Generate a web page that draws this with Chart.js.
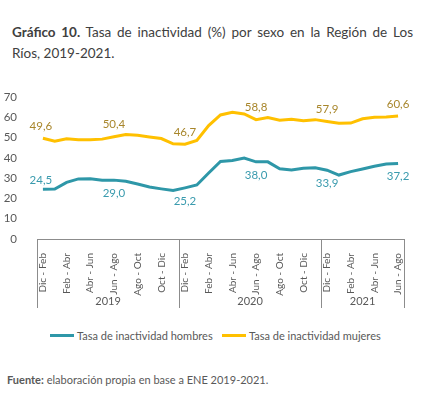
<!DOCTYPE html>
<html>
<head>
<meta charset="utf-8">
<script src="https://cdn.jsdelivr.net/npm/chart.js@4.4.0/dist/chart.umd.min.js"></script>
<style>
  body { margin: 0; background: #fff; font-family: Lato, "Open Sans", sans-serif; color: #404040; }
  #wrap { position: relative; width: 439px; height: 395px; overflow: hidden; }
  #titulo { position: absolute; left: 12px; top: 22px; width: 401px; font-size: 13.5px; line-height: 21px; text-align: justify; }
  #titulo b { font-weight: 700; }
  #lienzo { position: absolute; left: 0; top: 78px; width: 439px; height: 247px; }
  #leyenda { position: absolute; top: 329px; left: 0; width: 439px; font-size: 11px; color: #595959; }
  .item { position: absolute; display: flex; align-items: center; white-space: nowrap; }
  .item i { display: inline-block; width: 24px; height: 3px; margin-right: 3px; }
  #fuente { position: absolute; left: 7px; top: 373px; font-size: 11px; color: #595959; }
</style>
</head>
<body>
<div id="wrap">
  <div id="titulo"><b>Gráfico 10.</b> Tasa de inactividad (%) por sexo en la Región de Los Ríos, 2019-2021.</div>
  <div id="lienzo"><canvas id="chart" width="439" height="247"></canvas></div>
  <div id="leyenda"></div>
  <div id="fuente"><b>Fuente:</b> elaboración propia en base a ENE 2019-2021.</div>
</div>
<script>
// Trimestres móviles, 2019 a jun-ago 2021
const trimestres = [
  'Dic - Feb', 'Ene - Mar', 'Feb - Abr', 'Mar - May', 'Abr - Jun', 'May - Jul',
  'Jun - Ago', 'Jul - Sep', 'Ago - Oct', 'Sep - Nov', 'Oct - Dic', 'Nov - Ene',
  'Dic - Feb', 'Ene - Mar', 'Feb - Abr', 'Mar - May', 'Abr - Jun', 'May - Jul',
  'Jun - Ago', 'Jul - Sep', 'Ago - Oct', 'Sep - Nov', 'Oct - Dic', 'Nov - Ene',
  'Dic - Feb', 'Ene - Mar', 'Feb - Abr', 'Mar - May', 'Abr - Jun', 'May - Jul',
  'Jun - Ago'
];
const anios = ['2019', '2020', '2021'];
const trimestresPorAnio = [12, 12, 7];

const hombres = [
  24.5, 24.6, 27.9, 29.6, 29.7, 28.9, 29.0, 28.4, 27.1, 25.6, 24.7, 23.9,
  25.2, 26.6, 32.5, 38.2, 38.7, 39.9, 38.0, 38.0, 34.6, 34.0, 34.9, 35.1,
  33.9, 31.5, 33.2, 34.5, 35.8, 36.9, 37.2
];
const mujeres = [
  49.6, 48.2, 49.4, 48.9, 48.9, 49.2, 50.4, 51.5, 51.1, 50.3, 49.5, 46.9,
  46.7, 48.5, 55.9, 61.1, 62.4, 61.6, 58.8, 59.8, 58.5, 59.0, 58.3, 58.8,
  57.9, 57.0, 57.1, 59.2, 60.0, 60.1, 60.6
];
const etiquetados = [0, 6, 12, 18, 24, 30];

const colHombres = '#2E97A8';
const colMujeres = '#FFC000';
const txtHombres = '#3A9BAE';
const txtMujeres = '#A8862B';
const gris = '#595959';
const fuente = 'Lato, "Open Sans", sans-serif';

// leyenda en HTML
const leyenda = document.getElementById('leyenda');
[['Tasa de inactividad hombres', colHombres, 50], ['Tasa de inactividad mujeres', colMujeres, 222]].forEach(([txt, col, x]) => {
  const d = document.createElement('div');
  d.className = 'item';
  d.style.left = x + 'px';
  d.innerHTML = `<i style="background:${col}"></i>${txt}`;
  leyenda.appendChild(d);
});

const fmt = v => v.toFixed(1).replace('.', ',');

// etiquetas de valores
const pluginEtiquetas = {
  id: 'etiquetas',
  afterDatasetsDraw(chart) {
    const ctx = chart.ctx;
    ctx.save();
    ctx.font = '11.5px ' + fuente;
    ctx.textAlign = 'center';
    ctx.textBaseline = 'middle';
    chart.data.datasets.forEach((ds, di) => {
      const meta = chart.getDatasetMeta(di);
      etiquetados.forEach(i => {
        const p = meta.data[i];
        const esH = di === 0;
        ctx.fillStyle = esH ? txtHombres : txtMujeres;
        let dy = esH ? 13 : -12;
        if (esH && i === 0) dy = -9;
        ctx.fillText(fmt(ds.data[i]), p.x - (i === 0 ? 2 : 0), p.y + dy);
      });
    });
    ctx.restore();
  }
};

// separadores de años y rótulos
const pluginAnios = {
  id: 'anios',
  afterDraw(chart) {
    const x = chart.scales.x;
    const ctx = chart.ctx;
    const paso = x.getPixelForValue(1) - x.getPixelForValue(0);
    const y0 = chart.chartArea.bottom;
    ctx.save();
    ctx.strokeStyle = '#8c8c8c';
    ctx.lineWidth = 1;
    ctx.font = '11px ' + fuente;
    ctx.fillStyle = gris;
    ctx.textAlign = 'center';
    ctx.textBaseline = 'middle';
    let ini = 0;
    const bordes = [x.getPixelForValue(0) - paso / 2];
    trimestresPorAnio.forEach((n, k) => {
      const a = x.getPixelForValue(ini) - paso / 2;
      const b = x.getPixelForValue(ini + n - 1) + paso / 2;
      bordes.push(b);
      ctx.fillText(anios[k], (a + b) / 2, y0 + 62);
      ini += n;
    });
    bordes.forEach(bx => {
      const px = Math.round(bx) + 0.5;
      ctx.beginPath();
      ctx.moveTo(px, y0);
      ctx.lineTo(px, y0 + 69);
      ctx.stroke();
    });
    ctx.restore();
  }
};

new Chart(document.getElementById('chart'), {
  type: 'line',
  data: {
    labels: trimestres,
    datasets: [
      { label: 'Tasa de inactividad hombres', data: hombres, borderColor: colHombres, borderWidth: 3, pointRadius: 0, tension: 0, fill: false },
      { label: 'Tasa de inactividad mujeres', data: mujeres, borderColor: colMujeres, borderWidth: 3, pointRadius: 0, tension: 0, fill: false }
    ]
  },
  options: {
    responsive: false,
    animation: false,
    layout: { padding: { top: 4, right: 35, left: 0, bottom: 0 } },
    plugins: { legend: { display: false }, tooltip: { enabled: false } },
    scales: {
      y: {
        min: 0, max: 70,
        grid: { display: false },
        border: { display: false },
        ticks: { stepSize: 10, color: gris, font: { family: fuente, size: 11.5 }, padding: 12 },
        afterFit: s => { s.width = 37; }
      },
      x: {
        offset: true,
        grid: { display: false },
        border: { display: true, color: '#8c8c8c', width: 1 },
        ticks: {
          autoSkip: false,
          maxRotation: 90, minRotation: 90,
          padding: 6,
          color: gris,
          font: { family: fuente, size: 10 },
          callback: (v, i) => (i % 2 === 0 ? trimestres[i] : '')
        },
        afterFit: s => { s.height = 86; }
      }
    }
  },
  plugins: [pluginEtiquetas, pluginAnios]
});
</script>
</body>
</html>
